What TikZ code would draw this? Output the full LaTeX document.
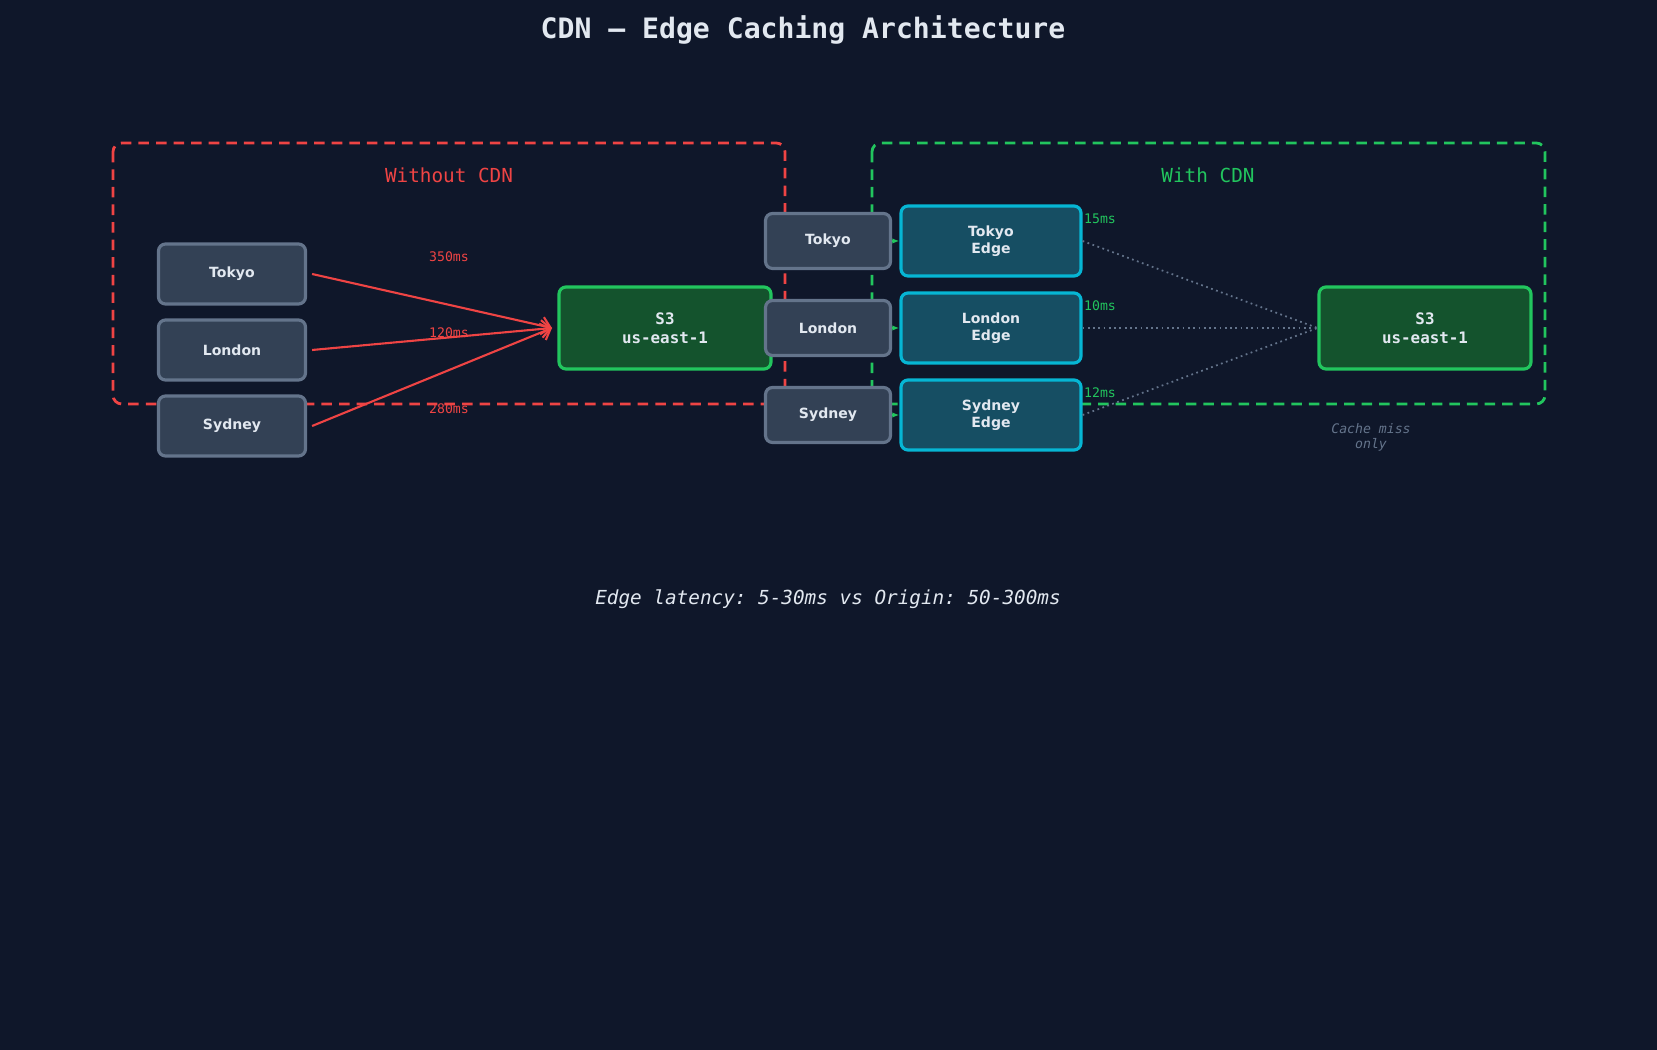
\documentclass[tikz,border=0pt]{standalone}
\usepackage{fontspec}
\setmainfont{DejaVu Sans}
\setmonofont{DejaVu Sans Mono}
\usetikzlibrary{arrows.meta,positioning}
\definecolor{bgc}{HTML}{0F172A}
\definecolor{redc}{HTML}{EF4444}
\definecolor{greenc}{HTML}{22C55E}
\definecolor{userfill}{HTML}{334155}
\definecolor{userdraw}{HTML}{64748B}
\definecolor{s3fill}{HTML}{14532D}
\definecolor{edgefill}{HTML}{164E63}
\definecolor{edgedraw}{HTML}{06B6D4}
\definecolor{txt}{HTML}{E2E8F0}
\tikzset{
  user/.style={draw=userdraw,fill=userfill,line width=1.8pt,rounded corners=4pt,text=txt,font=\fontsize{8}{9}\selectfont\bfseries},
  origin/.style={draw=greenc,fill=s3fill,line width=1.8pt,rounded corners=4pt,text=txt,align=center,font=\ttfamily\fontsize{9}{11}\selectfont\bfseries,minimum width=212\pxu,minimum height=82\pxu},
  edgebox/.style={draw=edgedraw,fill=edgefill,line width=1.8pt,rounded corners=4pt,text=txt,align=center,font=\fontsize{8}{10}\selectfont\bfseries,minimum width=180\pxu,minimum height=70\pxu},
  lat/.style={font=\ttfamily\fontsize{7.5}{9}\selectfont},
  region/.style={dashed,dash pattern=on 6pt off 4pt,line width=1.6pt,rounded corners=5pt},
}
\newlength{\pxu}\setlength{\pxu}{0.02cm}
\begin{document}
\begin{tikzpicture}[x=0.02cm,y=-0.02cm]
  \fill[bgc] (0,0) rectangle (1657,1050);
  \node[text=txt,font=\ttfamily\fontsize{16}{18}\selectfont\bfseries] (title) at (803,30) {CDN — Edge Caching Architecture};
  % regions
  \draw[region,redc] (113,143) rectangle (785,404);
  \draw[region,greenc] (872,143) rectangle (1545,404);
  \node[text=redc,font=\ttfamily\fontsize{11}{13}\selectfont] (lnone) at (449,175) {Without CDN};
  \node[text=greenc,font=\ttfamily\fontsize{11}{13}\selectfont] (lwith) at (1208,175) {With CDN};
  % without CDN
  \node[user,minimum width=147\pxu,minimum height=60\pxu] (t1) at (232,274) {Tokyo};
  \node[user,minimum width=147\pxu,minimum height=60\pxu] (l1) at (232,350) {London};
  \node[user,minimum width=147\pxu,minimum height=60\pxu] (s1) at (232,426) {Sydney};
  \node[origin] (o1) at (665,328) {S3\\us-east-1};
  \coordinate (hit) at (552,328);
  \draw[redc,line width=1.2pt,-{Straight Barb[length=5pt]}] (t1.east)++(5,0) -- (hit);
  \draw[redc,line width=1.2pt,-{Straight Barb[length=5pt]}] (l1.east)++(5,0) -- (hit);
  \draw[redc,line width=1.2pt,-{Straight Barb[length=5pt]}] (s1.east)++(5,0) -- (hit);
  \node[lat,text=redc] (d1) at (449,257) {350ms};
  \node[lat,text=redc] (d2) at (449,333) {120ms};
  \node[lat,text=redc] (d3) at (449,409) {280ms};
  % with CDN
  \node[user,minimum width=125\pxu,minimum height=55\pxu] (t2) at (828,241) {Tokyo};
  \node[user,minimum width=125\pxu,minimum height=55\pxu] (l2) at (828,328) {London};
  \node[user,minimum width=125\pxu,minimum height=55\pxu] (s2) at (828,415) {Sydney};
  \node[edgebox] (te) at (991,241) {Tokyo\\Edge};
  \node[edgebox] (le) at (991,328) {London\\Edge};
  \node[edgebox] (se) at (991,415) {Sydney\\Edge};
  \foreach \u/\e in {t2/te,l2/le,s2/se}
    \draw[greenc,line width=1pt,-{Latex[length=4pt]}] (\u) -- (\e);
  \node[origin] (o2) at (1425,328) {S3\\us-east-1};
  \foreach \e in {te,le,se}
    \draw[userdraw,line width=1pt,dotted] (\e.east) -- (o2.west);
  \node[lat,text=greenc] (e1) at (1100,219) {15ms};
  \node[lat,text=greenc] (e2) at (1100,306) {10ms};
  \node[lat,text=greenc] (e3) at (1100,393) {12ms};
  \node[text=userdraw,align=center,font=\ttfamily\itshape\fontsize{7.5}{8.5}\selectfont] (miss) at (1371,437) {Cache miss\\only};
  \node[text=txt,font=\ttfamily\itshape\fontsize{11}{13}\selectfont] (foot) at (828,599) {Edge latency: 5-30ms vs Origin: 50-300ms};
\end{tikzpicture}
\end{document}
